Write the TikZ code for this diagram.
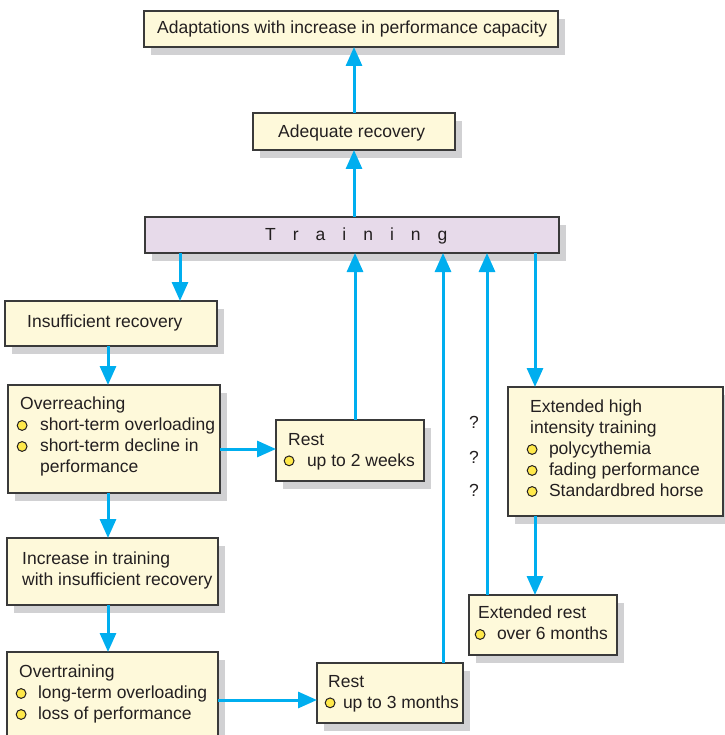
\documentclass[tikz,border=0pt]{standalone}
\usepackage{fontspec}
\setmainfont{Liberation Sans}
\usetikzlibrary{arrows.meta,shadows}
\definecolor{cream}{HTML}{FEF9DA}
\definecolor{lilac}{HTML}{E7DAEA}
\definecolor{edge}{HTML}{3A3A3A}
\definecolor{shade}{HTML}{D1D1D3}
\definecolor{flow}{HTML}{00AEEF}
\definecolor{ink}{HTML}{231F20}
\definecolor{dot}{HTML}{FFE94A}
% yellow list bullet
\newcommand\bul{\tikz\draw[fill=dot,draw=ink,line width=1pt] (0,0) circle[radius=4.9pt];}
% letter spacing for the training bar
\newcommand\lsp{\hspace{17pt}}
\begin{document}
\begin{tikzpicture}[x=1pt,y=-1pt,
  box/.style={draw=edge,line width=1.4pt,fill=cream,inner sep=0pt,outer sep=0pt,anchor=north west,
    drop shadow={shadow xshift=7pt,shadow yshift=-8pt,fill=shade,opacity=1}},
  txt/.style={inner sep=0pt,anchor=north west,align=left,text=ink,font=\fontsize{17.5}{21}\selectfont},
  arr/.style={draw=flow,line width=3pt,-{Triangle[length=19pt,width=16pt]}}]
\useasboundingbox (0,0) rectangle (724,735);

% boxes
\node[box,minimum width=414pt,minimum height=36pt] (adapt) at (144,11) {};
\node[box,minimum width=202pt,minimum height=37pt] (adeq) at (253,113) {};
\node[box,fill=lilac,minimum width=414pt,minimum height=36pt] (train) at (145,217) {};
\node[box,minimum width=212pt,minimum height=45pt] (insuf) at (5,301) {};
\node[box,minimum width=212pt,minimum height=108pt] (overr) at (8,385) {};
\node[box,minimum width=148pt,minimum height=61pt] (rest2) at (276,420) {};
\node[box,minimum width=211pt,minimum height=67pt] (incr) at (7,538) {};
\node[box,minimum width=211pt,minimum height=100pt] (overt) at (7,652) {};
\node[box,minimum width=146pt,minimum height=60pt] (rest3) at (317,663) {};
\node[box,minimum width=215pt,minimum height=129pt] (ext) at (508,387) {};
\node[box,minimum width=148pt,minimum height=60pt] (extrest) at (469,595) {};

% texts
\node[txt] (adaptT) at (157,20.5) {Adaptations with increase in performance capacity};
\node[txt] (adeqT) at (278,125) {Adequate recovery};
\node[txt] (trainT) at (265,228) {T\lsp r\lsp a\lsp i\lsp n\lsp i\lsp n\lsp g};
\node[txt] (insufT) at (27,315) {Insufficient recovery};
\node[txt] (overrT) at (20,397) {Overreaching\\
  \hspace*{-3.5pt}\bul\hspace*{12.5pt}short-term overloading\\
  \hspace*{-3.5pt}\bul\hspace*{12.5pt}short-term decline in\\
  \hspace*{20pt}performance};
\node[txt] (rest2T) at (288,433) {Rest\\
  \hspace*{-4.5pt}\bul\hspace*{12.5pt}up to 2 weeks};
\node[txt] (incrT) at (22,552) {Increase in training\\with insufficient recovery};
\node[txt] (overtT) at (19,665) {Overtraining\\
  \hspace*{-3.5pt}\bul\hspace*{11.5pt}long-term overloading\\
  \hspace*{-3.5pt}\bul\hspace*{11.5pt}loss of performance};
\node[txt] (rest3T) at (328,675) {Rest\\
  \hspace*{-3.5pt}\bul\hspace*{7.5pt}up to 3 months};
\node[txt] (extT) at (530,400) {Extended high\\intensity training\\
  \hspace*{-3.5pt}\bul\hspace*{11.5pt}polycythemia\\
  \hspace*{-3.5pt}\bul\hspace*{11.5pt}fading performance\\
  \hspace*{-3.5pt}\bul\hspace*{11.5pt}Standardbred horse};
\node[txt] (extrestT) at (478,606) {Extended rest\\
  \hspace*{-3.5pt}\bul\hspace*{11.5pt}over 6 months};

% question marks beside the long return path
\node[txt,anchor=center] (q1) at (474,422) {?};
\node[txt,anchor=center] (q2) at (474,457) {?};
\node[txt,anchor=center] (q3) at (474,490) {?};

% connector columns and rows
\coordinate (cA) at (180,0);
\coordinate (cB) at (108,0);
\coordinate (cC) at (355,0);
\coordinate (cD) at (443,0);
\coordinate (cE) at (487,0);
\coordinate (cF) at (535,0);
\coordinate (rA) at (0,449);
\coordinate (rB) at (0,700);

% connectors
\draw[arr] (adeq.north) -- (adeq.north |- adapt.south);
\draw[arr] (train.north -| adeq.south) -- (adeq.south);
\draw[arr] (train.south -| cA) -- (insuf.north -| cA);
\draw[arr] (insuf.south -| cB) -- (overr.north -| cB);
\draw[arr] (overr.south -| cB) -- (incr.north -| cB);
\draw[arr] (incr.south -| cB) -- (overt.north -| cB);
\draw[arr] (overr.east |- rA) -- (rest2.west |- rA);
\draw[arr] (rest2.north -| cC) -- (train.south -| cC);
\draw[arr] (overt.east |- rB) -- (rest3.west |- rB);
\draw[arr] (rest3.north -| cD) -- (train.south -| cD);
\draw[arr] (extrest.north -| cE) -- (train.south -| cE);
\draw[arr] (train.south -| cF) -- (ext.north -| cF);
\draw[arr] (ext.south -| cF) -- (extrest.north -| cF);
\end{tikzpicture}
\end{document}
